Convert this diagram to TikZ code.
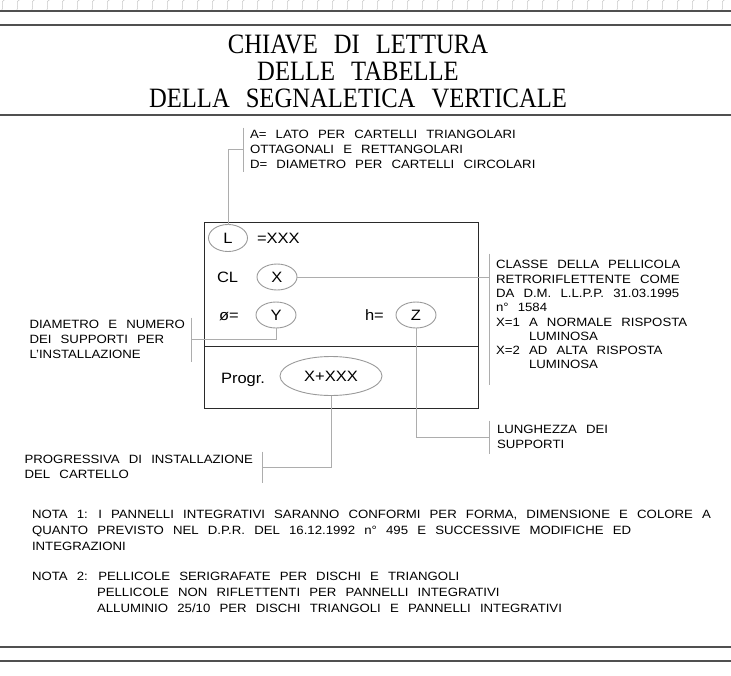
\documentclass[tikz,border=0pt]{standalone}
\usepackage{fontspec}
\setsansfont[FakeStretch=1.1,WordSpace=2.5]{Liberation Sans}
\newfontfamily\titleFont[FakeStretch=0.88,WordSpace=2.6]{Liberation Serif}
\usetikzlibrary{shapes.geometric}

\definecolor{frameGray}{HTML}{505050}
\definecolor{boxGray}{HTML}{2A2A2A}
\definecolor{tagGray}{HTML}{9A9A9A}
\definecolor{leadGray}{HTML}{ADADAD}
\definecolor{mapGray}{HTML}{C8C8C8}

\begin{document}
\begin{tikzpicture}[
    x=1pt, y=-1pt,
    every node/.style={inner sep=0pt, outer sep=0pt},
    cadText/.style={font=\sffamily\fontsize{12}{15}\selectfont, align=left},
    cadTextTight/.style={font=\sffamily\fontsize{12}{14.3}\selectfont, align=left},
    noteText/.style={font=\sffamily\fontsize{12}{16}\selectfont, align=left},
    boxText/.style={font=\sffamily\fontsize{15}{18}\selectfont},
    boxLabel/.style={boxText, anchor=base west},
    titleText/.style={font=\titleFont\fontsize{28}{27}\selectfont, align=center},
    tagShape/.style={ellipse, draw=tagGray, line width=0.9pt, minimum width=40pt, minimum height=26pt, boxText},
    leader/.style={draw=leadGray, line width=0.9pt},
    frameLine/.style={draw=frameGray, line width=1.6pt}
    ]
    \useasboundingbox (0,0) rectangle (731,675);

    % map strip at the top
    \begin{scope}
        \clip (0,0) rectangle (731,10);
        \foreach \k in {0,...,48} {
            \draw[mapGray, line width=0.5pt] (\k*15,12) .. controls (\k*15+7,6) and (\k*15-3,3) .. (\k*15+6,-1);
        }
    \end{scope}

    \draw[frameLine] (0,10.7) -- (731,10.7);
    \draw[frameLine] (0,25) -- (731,25);
    \draw[frameLine] (0,115) -- (731,115);
    \draw[frameLine] (0,647) -- (731,647);
    \draw[frameLine] (0,661) -- (731,661);

    \node[titleText] (title) at (358,71) {CHIAVE DI LETTURA\\DELLE TABELLE\\DELLA SEGNALETICA VERTICALE};

    % the sign
    \node[draw=boxGray, line width=0.9pt, minimum width=274pt, minimum height=186pt, anchor=north west] (signBox) at (204,222) {};
    \draw[boxGray, line width=0.9pt] (signBox.west |- 0,346) -- (signBox.east |- 0,346);

    \node[tagShape, minimum width=39pt, minimum height=27pt] (tagL) at (228,238) {L};
    \node[boxLabel] (valL) at (257,243.4) {=XXX};
    \node[boxLabel] (clLabel) at (217,282.4) {CL};
    \node[tagShape] (tagX) at (277,277) {X};
    \node[boxLabel] (diamLabel) at (219,320.4) {ø=};
    \node[tagShape] (tagY) at (276,315) {Y};
    \node[boxLabel] (hLabel) at (365,320.4) {h=};
    \node[tagShape] (tagZ) at (416,315) {Z};
    \node[boxLabel] (progLabel) at (221,383.4) {Progr.};
    \node[tagShape, minimum width=102pt, minimum height=39pt] (tagProg) at (331,376) {X+XXX};

    % descriptions
    \node[cadText, anchor=north west] (descL) at (250,130.5) {A= LATO PER CARTELLI TRIANGOLARI\\OTTAGONALI E RETTANGOLARI\\D= DIAMETRO PER CARTELLI CIRCOLARI};
    \node[cadTextTight, anchor=north west] (descX) at (496,260.5) {CLASSE DELLA PELLICOLA\\RETRORIFLETTENTE COME\\DA D.M. L.L.P.P. 31.03.1995\\n° 1584\\X=1 A NORMALE RISPOSTA\\\hphantom{X=1} LUMINOSA\\X=2 AD ALTA RISPOSTA\\\hphantom{X=2} LUMINOSA};
    \node[cadText, anchor=north east] (descY) at (185,320.5) {DIAMETRO E NUMERO\\DEI SUPPORTI PER\\L'INSTALLAZIONE};
    \node[cadText, anchor=north west] (descZ) at (497,425.5) {LUNGHEZZA DEI\\SUPPORTI};
    \node[cadText, anchor=north east] (descProg) at (253,455.5) {PROGRESSIVA DI INSTALLAZIONE\\DEL CARTELLO};
    \node[noteText, anchor=north west] (noteOne) at (32,510.5) {NOTA 1: I PANNELLI INTEGRATIVI SARANNO CONFORMI PER FORMA, DIMENSIONE E COLORE A\\QUANTO PREVISTO NEL D.P.R. DEL 16.12.1992 n° 495 E SUCCESSIVE MODIFICHE ED\\INTEGRAZIONI};
    \node[noteText, anchor=north west] (noteTwo) at (32,572.5) {NOTA 2: PELLICOLE SERIGRAFATE PER DISCHI E TRIANGOLI\\\hphantom{NOTA 2:} PELLICOLE NON RIFLETTENTI PER PANNELLI INTEGRATIVI\\\hphantom{NOTA 2:} ALLUMINIO 25/10 PER DISCHI TRIANGOLI E PANNELLI INTEGRATIVI};

    % bars beside the descriptions
    \coordinate (barL) at ([xshift=-7pt]descL.north west);
    \coordinate (barX) at ([xshift=-7pt]descX.north west);
    \coordinate (barY) at ([xshift=6pt]descY.north east);
    \coordinate (barZ) at ([xshift=-8pt]descZ.north west);
    \coordinate (barProg) at ([xshift=9pt]descProg.north east);

    \draw[leader] ([yshift=3pt]barL) -- ([xshift=-7pt, yshift=-3pt]descL.south west);
    \draw[leader] ([yshift=7pt]barX) -- ([xshift=-7pt, yshift=-16pt]descX.south west);
    \draw[leader] ([yshift=3pt]barY) -- ([xshift=6pt, yshift=-3pt]descY.south east);
    \draw[leader] ([yshift=5pt]barZ) -- ([xshift=-8pt, yshift=-5pt]descZ.south west);
    \draw[leader] ([yshift=4pt]barProg) -- ([xshift=9pt, yshift=-4pt]descProg.south east);

    % leaders
    \draw[leader] (tagL.north) |- (barL |- descL.west);
    \draw[leader] (tagX.east) -- (tagX.east -| barX);
    \draw[leader] (tagY.south) |- (barY |- descY.east);
    \draw[leader] (tagZ.south) |- (barZ |- descZ.west);
    \draw[leader] (tagProg.south) |- (barProg |- descProg.east);
\end{tikzpicture}
\end{document}
